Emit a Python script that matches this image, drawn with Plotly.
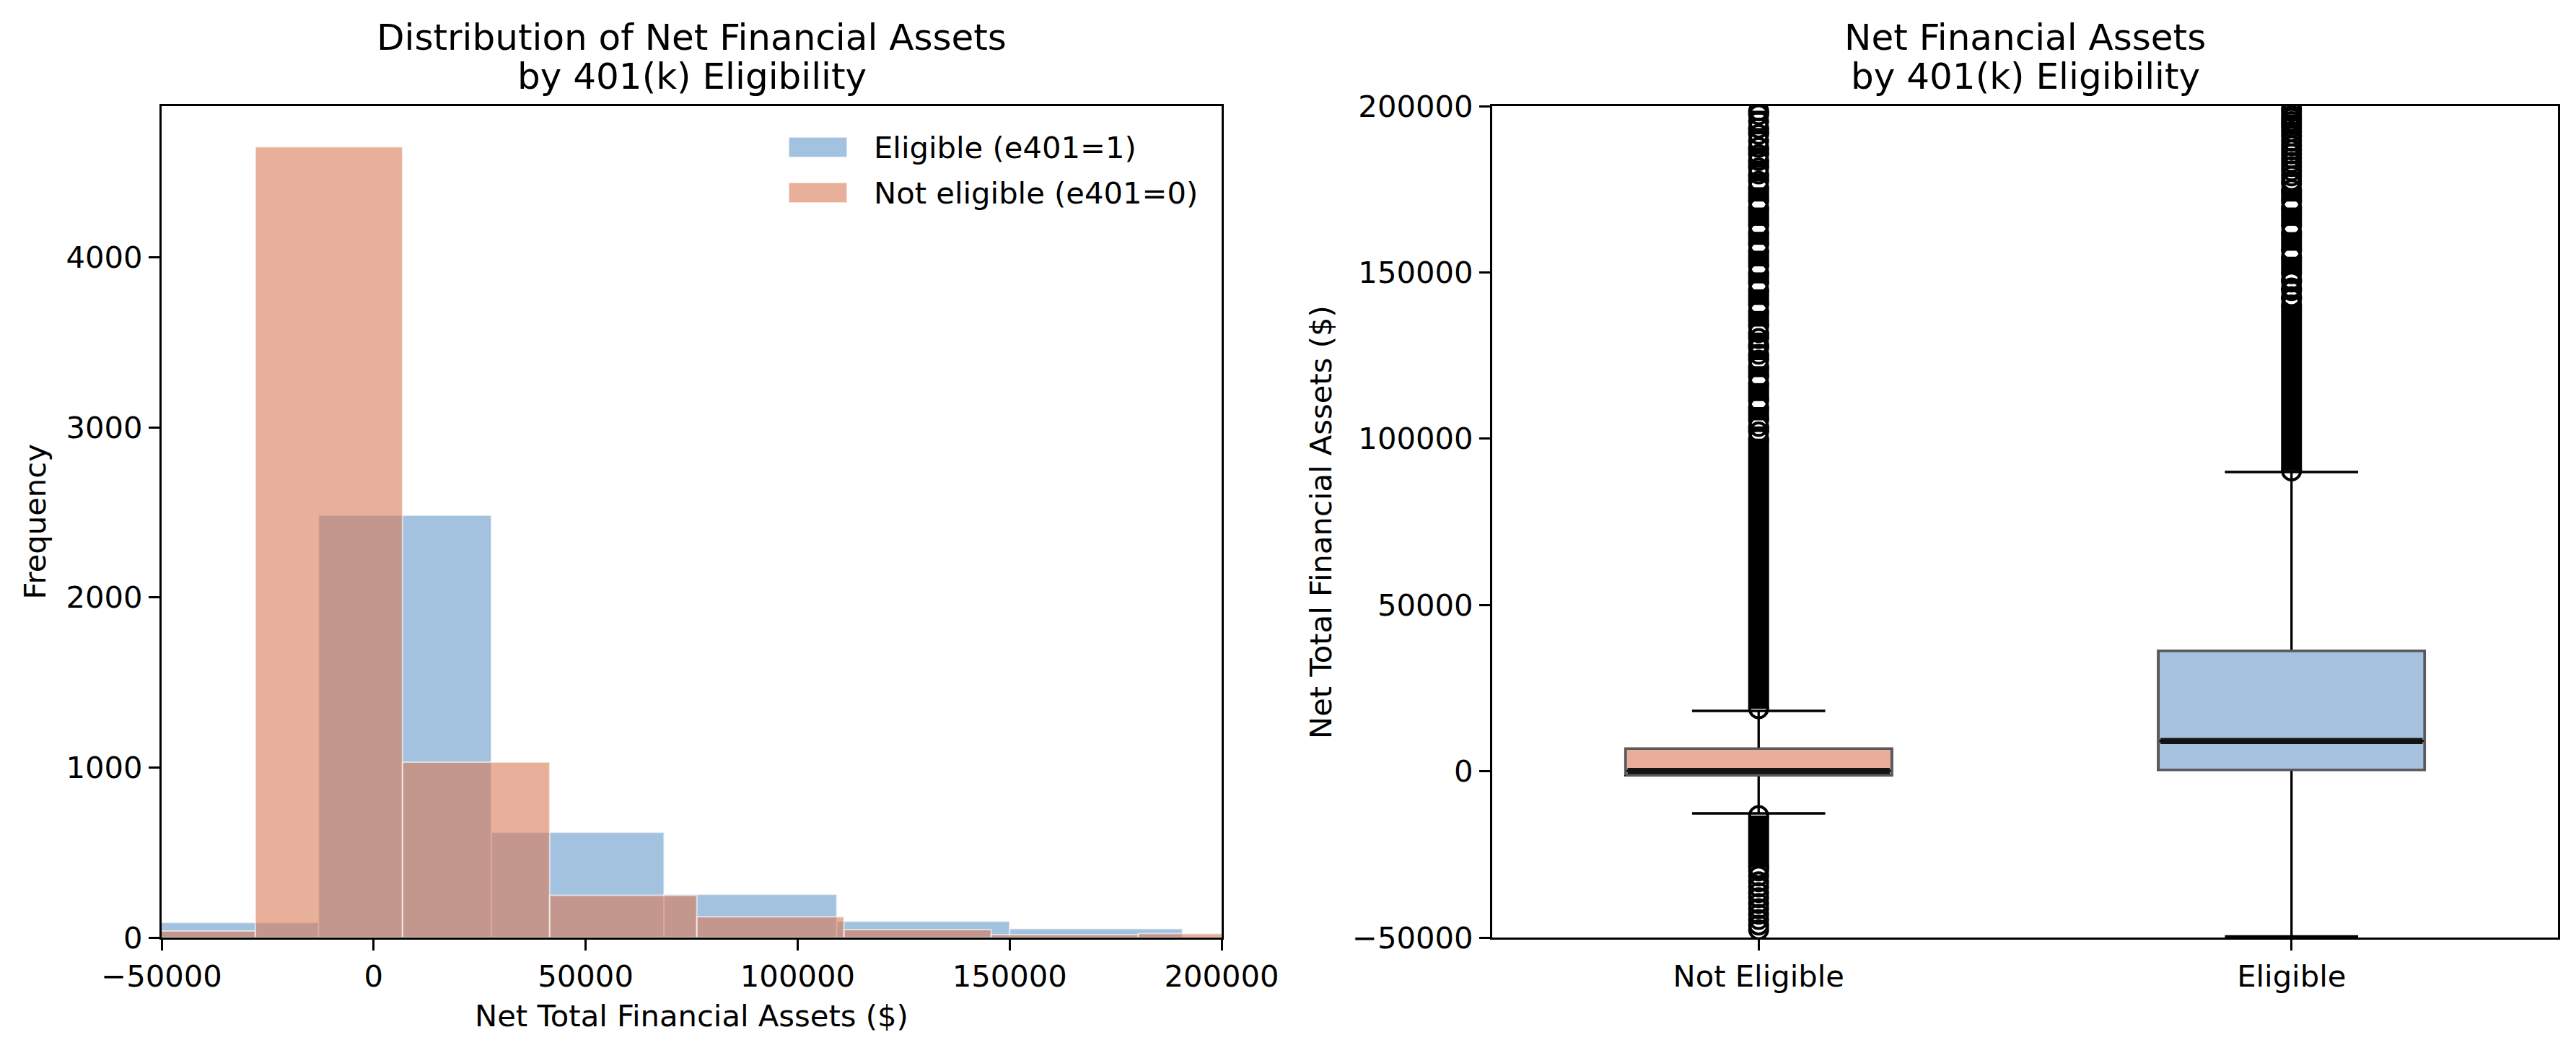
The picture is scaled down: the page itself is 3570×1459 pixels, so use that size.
import plotly.graph_objects as go

W, H = 3570, 1459

# ---------------- data ----------------
# Histogram: bin edges and counts per group
elig_edges = [-53740, -12990, 27760, 68500, 109250, 150000, 190750]
elig_counts = [88, 2483, 619, 254, 95, 52]
nonelig_edges = [-62610, -27900, 6810, 41520, 76230, 110930, 145640, 180350, 215060]
nonelig_counts = [38, 4650, 1031, 248, 122, 47, 17, 23]

hist_xticks = [-50000, 0, 50000, 100000, 150000, 200000]
hist_xticklabels = ["\u221250000", "0", "50000", "100000", "150000", "200000"]
hist_yticks = [0, 1000, 2000, 3000, 4000]
hist_yticklabels = ["0", "1000", "2000", "3000", "4000"]

# Box plot statistics
box_labels = ["Not Eligible", "Eligible"]
box_q1 = [-1170, 410]
box_median = [100, 9090]
box_q3 = [6790, 36220]
box_lower_whisker = [-12670, -49650]
box_upper_whisker = [18140, 89970]

# Outliers: value ranges where the circles overlap into a solid column
# (a circle sits at each end), plus individually visible circles
ne_dense_ranges = [[18800, 100000], [102000, 103700], [105500, 109500], [111300, 116700],
                   [118500, 121800], [123600, 125400], [127200, 128300], [130100, 131900],
                   [133700, 138400], [140200, 144900], [146700, 150000], [151800, 156500],
                   [158300, 162200], [164000, 169500], [171300, 175600], [177400, 179600],
                   [181400, 183600], [185400, 187600], [191500, 193400], [197400, 198600],
                   [-13300, -29000]]
ne_outliers = [189500, 195400, -29970, -31500, -33220, -34800, -36480, -38000, -39730,
               -41300, -42990, -44600, -46240, -47680]
el_dense_ranges = [[90300, 140200], [142000, 142700], [144500, 145300], [147100, 147800],
                   [149600, 154700], [156500, 162100], [164000, 169500], [171300, 174900]]
el_outliers = [176700, 177600, 179000, 180500, 181800, 183050, 184300, 185600, 186800,
               188100, 189500, 191000, 192300, 193550, 194400, 195350, 196300, 197150,
               198300, 199200]

box_yticks = [-50000, 0, 50000, 100000, 150000, 200000]
box_yticklabels = ["\u221250000", "0", "50000", "100000", "150000", "200000"]

# ---------------- styles ----------------
FONT = "DejaVu Sans"
FS_TICK = 41.7
FS_TITLE = 50
BLUE = "rgba(102,153,204,0.6)"
RED = "rgba(217,121,86,0.6)"
EDGE = "rgba(255,255,255,0.6)"
BOX_FILL = ["#E8AD9B", "#A6C2E0"]
BOX_EDGE = "#5a5a5a"
MED_COLOR = "#141414"
positions = [1, 2]
BOX_HALF = 0.25


def px(x):
    return x / W


def py(y):
    return 1 - y / H


fig = go.Figure()


def add_hist(edges, counts, color, name):
    centers = [(edges[i] + edges[i + 1]) / 2 for i in range(len(counts))]
    widths = [edges[i + 1] - edges[i] for i in range(len(counts))]
    fig.add_trace(go.Bar(x=centers, y=counts, width=widths, name=name,
                         marker=dict(color=color, line=dict(color=EDGE, width=2)),
                         xaxis="x", yaxis="y", showlegend=False))


add_hist(elig_edges, elig_counts, BLUE, "Eligible (e401=1)")
add_hist(nonelig_edges, nonelig_counts, RED, "Not eligible (e401=0)")

# Box plot
for i, p in enumerate(positions):
    fig.add_trace(go.Box(x=[p], q1=[box_q1[i]], median=[box_median[i]], q3=[box_q3[i]],
                         lowerfence=[box_lower_whisker[i]], upperfence=[box_upper_whisker[i]],
                         width=2 * BOX_HALF, whiskerwidth=0.5, fillcolor=BOX_FILL[i],
                         line=dict(color="black", width=3.3), boxpoints=False,
                         name=box_labels[i], showlegend=False, xaxis="x2", yaxis="y2",
                         hoverinfo="skip"))
    # grey box outline (matplotlib style)
    fig.add_trace(go.Scatter(x=[p - BOX_HALF, p + BOX_HALF, p + BOX_HALF, p - BOX_HALF, p - BOX_HALF],
                             y=[box_q1[i], box_q1[i], box_q3[i], box_q3[i], box_q1[i]],
                             mode="lines", line=dict(color=BOX_EDGE, width=3.3),
                             xaxis="x2", yaxis="y2", showlegend=False, hoverinfo="skip"))
    # thick median
    fig.add_trace(go.Scatter(x=[p - BOX_HALF + 0.004, p + BOX_HALF - 0.004], y=[box_median[i], box_median[i]],
                             mode="lines", line=dict(color=MED_COLOR, width=8.5),
                             xaxis="x2", yaxis="y2", showlegend=False, hoverinfo="skip"))

for p, ranges, outs in [(positions[0], ne_dense_ranges, ne_outliers),
                        (positions[1], el_dense_ranges, el_outliers)]:
    bx, by = [], []
    for lo, hi in ranges:
        bx += [p, p, None]
        by += [lo, hi, None]
    fig.add_trace(go.Scatter(x=bx, y=by, mode="lines", connectgaps=False,
                             line=dict(color="black", width=29),
                             xaxis="x2", yaxis="y2", showlegend=False, hoverinfo="skip"))
    circles = [v for r in ranges for v in r] + outs
    fig.add_trace(go.Scatter(x=[p] * len(circles), y=circles, mode="markers",
                             marker=dict(symbol="circle-open", size=25, color="black",
                                         line=dict(color="black", width=4)),
                             xaxis="x2", yaxis="y2", showlegend=False, hoverinfo="skip"))

axis_common = dict(showline=True, linecolor="black", linewidth=3.3, mirror=True,
                   ticks="outside", ticklen=15, tickwidth=3.3, tickcolor="black",
                   showgrid=False, zeroline=False, automargin=False,
                   tickfont=dict(family=FONT, size=FS_TICK, color="black"))

ydom = [py(1299), py(147)]
fig.update_layout(
    width=W, height=H, autosize=False,
    margin=dict(l=0, r=0, t=0, b=0, autoexpand=False),
    paper_bgcolor="white", plot_bgcolor="white",
    barmode="overlay", showlegend=False,
    font=dict(family=FONT, color="black"),
    xaxis=dict(domain=[px(224), px(1693)], range=[-50000, 200000],
               tickmode="array", tickvals=hist_xticks, ticktext=hist_xticklabels,
               anchor="y", **axis_common),
    yaxis=dict(domain=ydom, range=[0, 4890], tickmode="array",
               tickvals=hist_yticks, ticktext=hist_yticklabels, anchor="x", **axis_common),
    xaxis2=dict(domain=[px(2068), px(3545)], range=[0.5, 2.5], tickmode="array",
                tickvals=positions, ticktext=box_labels, anchor="y2", **axis_common),
    yaxis2=dict(domain=ydom, range=[-50000, 200000], tickmode="array",
                tickvals=box_yticks, ticktext=box_yticklabels, anchor="x2", **axis_common),
)

ann = []


def text(x, y, s, size, angle=0, xanchor="center"):
    ann.append(dict(x=px(x), y=py(y), xref="paper", yref="paper", text=s, showarrow=False,
                    font=dict(family=FONT, size=size, color="black"), textangle=angle,
                    xanchor=xanchor, yanchor="middle"))


# titles (baselines ~69 and ~123 px)
text(958.5, 69 - 0.346 * FS_TITLE, "Distribution of Net Financial Assets", FS_TITLE)
text(958.5, 123 - 0.346 * FS_TITLE, "by 401(k) Eligibility", FS_TITLE)
text(2806.5, 69 - 0.346 * FS_TITLE, "Net Financial Assets", FS_TITLE)
text(2806.5, 123 - 0.346 * FS_TITLE, "by 401(k) Eligibility", FS_TITLE)
# axis labels
text(958.5, 1421.7 - 0.346 * FS_TICK, "Net Total Financial Assets ($)", FS_TICK)
text(47.5, 723, "Frequency", FS_TICK, angle=-90)
text(1830, 723, "Net Total Financial Assets ($)", FS_TICK, angle=-90)
# legend
legend_items = [("Eligible (e401=1)", BLUE, 190, 218), ("Not eligible (e401=0)", RED, 253, 281)]
for label, col, y0, y1 in legend_items:
    fig.add_shape(type="rect", xref="paper", yref="paper", x0=px(1093), x1=px(1174),
                  y0=py(y1), y1=py(y0), fillcolor=col, line=dict(color=EDGE, width=2))
    text(1209, (y0 + y1) / 2 + 0.5, label, FS_TICK, xanchor="left")

fig.update_layout(annotations=ann)

fig.write_html("out.html", config={"displayModeBar": False},
               post_script="document.body.style.margin='0';document.body.style.overflow='hidden';")
